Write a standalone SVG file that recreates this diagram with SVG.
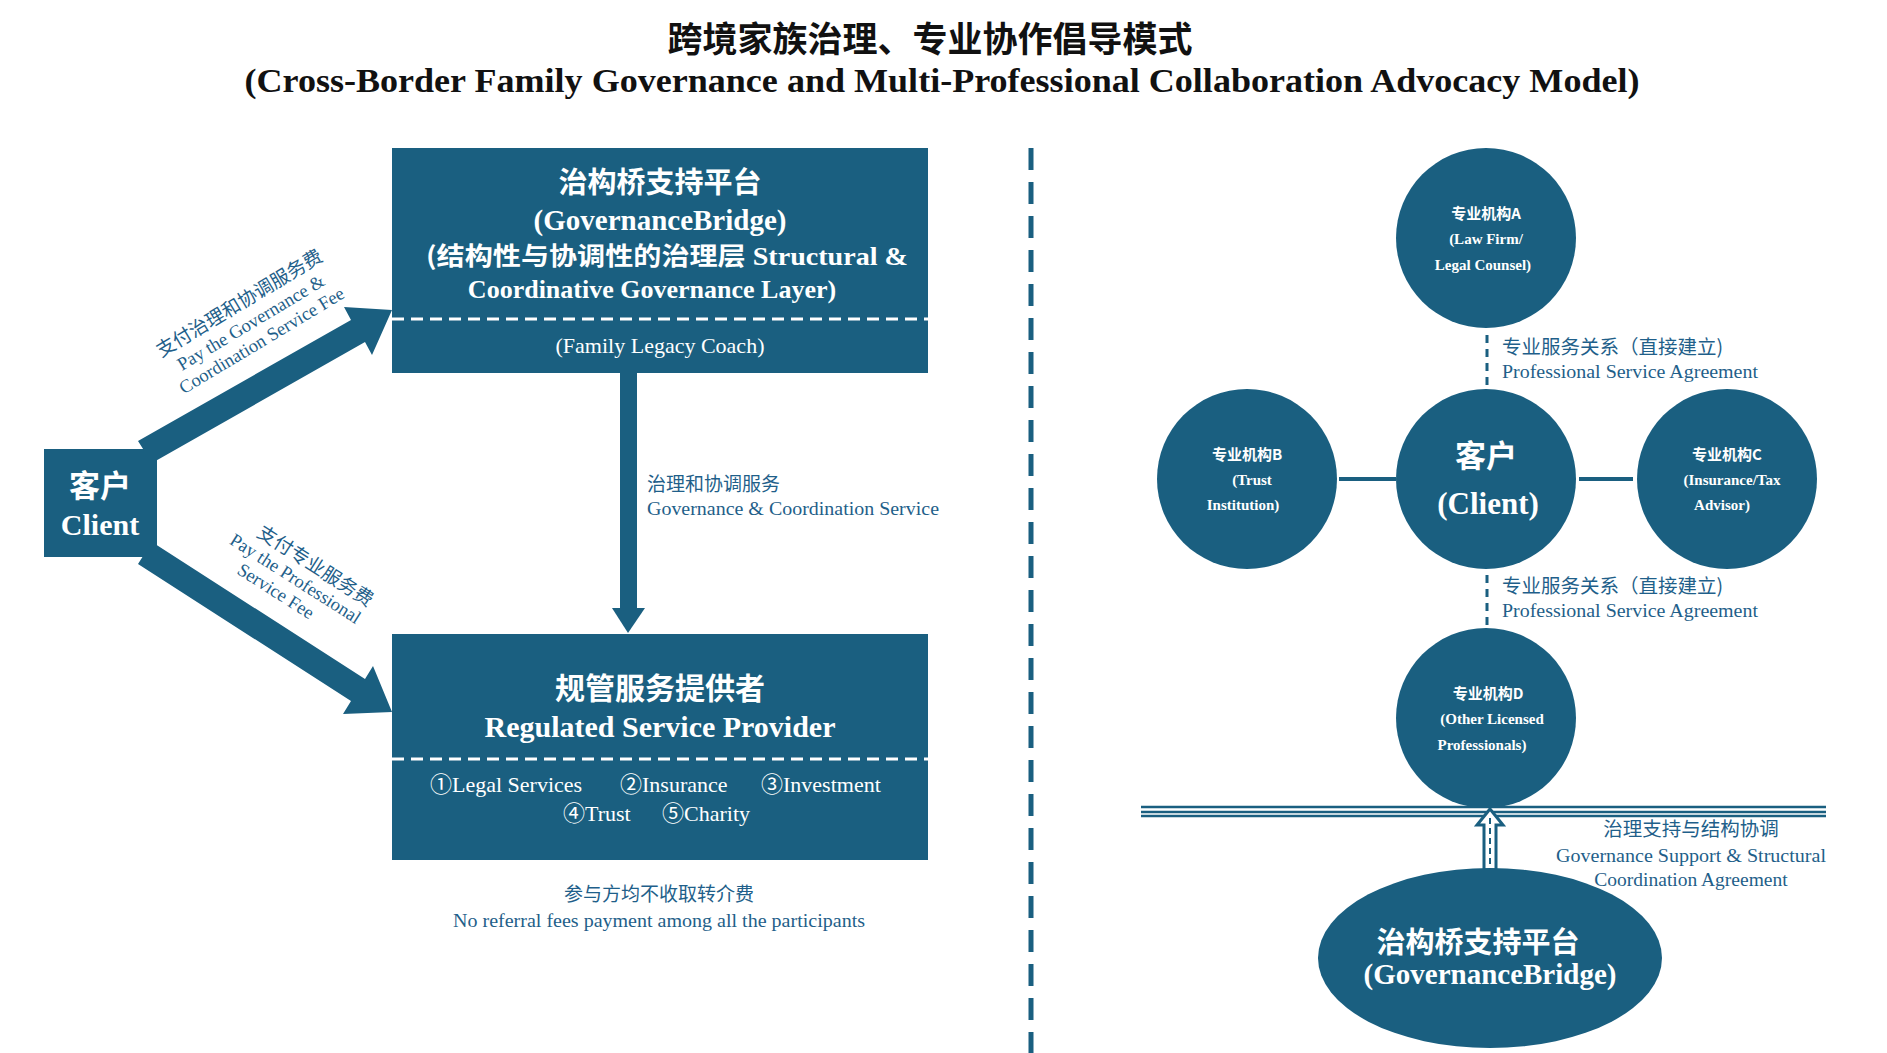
<svg xmlns="http://www.w3.org/2000/svg" width="1887" height="1053" viewBox="0 0 1887 1053">
<style>
.box{fill:#1a5f80}
.w{fill:#fff}
.b{fill:#1f5f8a}
.zh{font-family:"Noto Sans CJK SC","Noto Sans",sans-serif}
.sr{font-family:"Liberation Serif","Noto Sans CJK SC",serif}
.bold{font-weight:bold}
.mid{text-anchor:middle}
</style>
<rect width="1887" height="1053" fill="#fff"/>
<text x="930" y="52" class="zh bold mid" font-size="35" fill="#111">跨境家族治理、专业协作倡导模式</text>
<text x="942" y="92" class="sr bold mid" font-size="33" fill="#111" textLength="1395" lengthAdjust="spacingAndGlyphs">(Cross-Border Family Governance and Multi-Professional Collaboration Advocacy Model)</text>

<g id="divider"><line x1="1031" y1="148" x2="1031" y2="1053" stroke="#1a5f80" stroke-width="5" stroke-dasharray="22,12"/></g>

<g id="connectors">
  <polygon class="box" points="138,441 351,320 344,307 392,310 372,355 365,342 152,463"/>
  <polygon class="box" points="152,542 365,679 373,666 392,712 343,714 351,701 138,564"/>
  <rect x="620" y="373" width="17" height="238" class="box"/>
  <polygon class="box" points="612,608 645,608 628,633"/>
  <line x1="1339" y1="479" x2="1396" y2="479" stroke="#1a5f80" stroke-width="4"/>
  <line x1="1579" y1="479" x2="1633" y2="479" stroke="#1a5f80" stroke-width="4"/>
  <line x1="1487" y1="335" x2="1487" y2="389" stroke="#1a5f80" stroke-width="3" stroke-dasharray="8,6"/>
  <line x1="1487" y1="575" x2="1487" y2="628" stroke="#1a5f80" stroke-width="3" stroke-dasharray="8,6"/>
  <g stroke="#1a5f80" stroke-width="2.5">
    <line x1="1141" y1="807" x2="1826" y2="807"/>
    <line x1="1141" y1="812" x2="1826" y2="812"/>
    <line x1="1141" y1="816" x2="1826" y2="816"/>
  </g>
  <polygon points="1490,809 1503,825 1496,825 1496,870 1484,870 1484,825 1477,825" fill="#fff" stroke="#1a5f80" stroke-width="3"/>
  <line x1="1490" y1="818" x2="1490" y2="868" stroke="#1a5f80" stroke-width="2" stroke-dasharray="6,4"/>
</g>

<g id="label-up" transform="translate(253,326) rotate(-31)">
  <text x="0" y="-20" class="zh mid b" font-size="19">支付治理和协调服务费</text>
  <text x="0" y="2" class="sr mid b" font-size="18.5">Pay the Governance &amp;</text>
  <text x="0" y="23" class="sr mid b" font-size="18.5">Coordination Service Fee</text>
</g>
<g id="label-down" transform="translate(296,578) rotate(32.5)">
  <text x="10" y="-14" class="zh mid b" font-size="19">支付专业服务费</text>
  <text x="0" y="7" class="sr mid b" font-size="18.5">Pay the Professional</text>
  <text x="-10" y="28" class="sr mid b" font-size="18.5">Service Fee</text>
</g>

<g id="client">
  <rect x="44" y="449" width="113" height="108" class="box"/>
  <text x="100" y="497" class="zh bold mid w" font-size="31">客户</text>
  <text x="100" y="535" class="sr bold mid w" font-size="30">Client</text>
</g>

<g id="governancebridge">
  <rect x="392" y="148" width="536" height="225" class="box"/>
  <line x1="392" y1="319" x2="928" y2="319" stroke="#fff" stroke-width="3" stroke-dasharray="12,7"/>
  <text x="660" y="193" class="zh bold mid w" font-size="29">治构桥支持平台</text>
  <text x="660" y="230" class="sr bold mid w" font-size="29">(GovernanceBridge)</text>
  <text x="667" y="265" class="sr bold mid w" font-size="25" textLength="482" lengthAdjust="spacingAndGlyphs"><tspan class="zh">(结构性与协调性的治理层</tspan> Structural &amp;</text>
  <text x="652" y="298" class="sr bold mid w" font-size="26">Coordinative Governance Layer)</text>
  <text x="660" y="353" class="sr mid w" font-size="22">(Family Legacy Coach)</text>
</g>

<g id="service-label">
  <text x="647" y="491" class="zh b" font-size="19">治理和协调服务</text>
  <text x="647" y="515" class="sr b" font-size="19" textLength="292" lengthAdjust="spacingAndGlyphs">Governance &amp; Coordination Service</text>
</g>

<g id="provider">
  <rect x="392" y="634" width="536" height="226" class="box"/>
  <line x1="392" y1="759" x2="928" y2="759" stroke="#fff" stroke-width="3" stroke-dasharray="12,7"/>
  <text x="660" y="699" class="zh bold mid w" font-size="30">规管服务提供者</text>
  <text x="660" y="737" class="sr bold mid w" font-size="30">Regulated Service Provider</text>
  <text x="430" y="792" class="sr w" font-size="22">①Legal Services</text>
  <text x="620" y="792" class="sr w" font-size="22">②Insurance</text>
  <text x="761" y="792" class="sr w" font-size="22">③Investment</text>
  <text x="563" y="821" class="sr w" font-size="22">④Trust</text>
  <text x="662" y="821" class="sr w" font-size="22">⑤Charity</text>
</g>

<g id="note">
  <text x="659" y="901" class="zh mid b" font-size="19">参与方均不收取转介费</text>
  <text x="659" y="927" class="sr mid b" font-size="19" textLength="412" lengthAdjust="spacingAndGlyphs">No referral fees payment among all the participants</text>
</g>

<g id="agreement-labels">
  <text x="1502" y="354" class="zh b" font-size="19.5">专业服务关系（直接建立)</text>
  <text x="1502" y="378" class="sr b" font-size="19.5" textLength="256" lengthAdjust="spacingAndGlyphs">Professional Service Agreement</text>
  <text x="1502" y="593" class="zh b" font-size="19.5">专业服务关系（直接建立)</text>
  <text x="1502" y="617" class="sr b" font-size="19.5" textLength="256" lengthAdjust="spacingAndGlyphs">Professional Service Agreement</text>
</g>

<g id="inst-a">
  <circle cx="1486" cy="238" r="90" class="box"/>
  <text x="1486" y="219" class="zh bold mid w" font-size="15">专业机构A</text>
  <text x="1486" y="244" class="sr bold mid w" font-size="15">(Law Firm/</text>
  <text x="1483" y="270" class="sr bold mid w" font-size="15">Legal Counsel)</text>
</g>
<g id="client-circle">
  <circle cx="1486" cy="479" r="90" class="box"/>
  <text x="1486" y="467" class="zh bold mid w" font-size="31">客户</text>
  <text x="1488" y="514" class="sr bold mid w" font-size="31">(Client)</text>
</g>
<g id="inst-b">
  <circle cx="1247" cy="479" r="90" class="box"/>
  <text x="1247" y="460" class="zh bold mid w" font-size="15">专业机构B</text>
  <text x="1252" y="485" class="sr bold mid w" font-size="15">(Trust</text>
  <text x="1243" y="510" class="sr bold mid w" font-size="15">Institution)</text>
</g>
<g id="inst-c">
  <circle cx="1727" cy="479" r="90" class="box"/>
  <text x="1727" y="460" class="zh bold mid w" font-size="15">专业机构C</text>
  <text x="1732" y="485" class="sr bold mid w" font-size="15">(Insurance/Tax</text>
  <text x="1722" y="510" class="sr bold mid w" font-size="15">Advisor)</text>
</g>
<g id="inst-d">
  <circle cx="1486" cy="718" r="90" class="box"/>
  <text x="1488" y="699" class="zh bold mid w" font-size="15">专业机构D</text>
  <text x="1492" y="724" class="sr bold mid w" font-size="15">(Other Licensed</text>
  <text x="1482" y="750" class="sr bold mid w" font-size="15">Professionals)</text>
</g>

<g id="bridge-ellipse">
  <ellipse cx="1490" cy="958" rx="172" ry="90" class="box"/>
  <text x="1478" y="953" class="zh bold mid w" font-size="29">治构桥支持平台</text>
  <text x="1490" y="984" class="sr bold mid w" font-size="29">(GovernanceBridge)</text>
</g>

<g id="support-label">
  <text x="1691" y="836" class="zh mid b" font-size="19.5">治理支持与结构协调</text>
  <text x="1691" y="862" class="sr mid b" font-size="19.5" textLength="270" lengthAdjust="spacingAndGlyphs">Governance Support &amp; Structural</text>
  <text x="1691" y="886" class="sr mid b" font-size="19.5">Coordination Agreement</text>
</g>
</svg>
